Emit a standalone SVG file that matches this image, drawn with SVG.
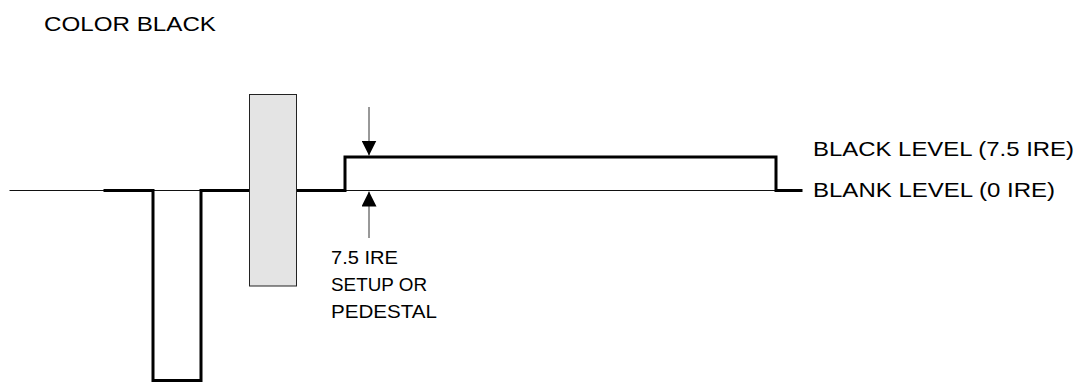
<svg xmlns="http://www.w3.org/2000/svg" width="1084" height="383" viewBox="0 0 1084 383">
  <style>
    .label { font-family: "Liberation Sans", Arial, sans-serif; fill: #000; }
    .big { font-size: 21px; }
    .small { font-size: 18px; }
    .thin { fill: none; stroke: #111; stroke-width: 1; }
    .thick { fill: none; stroke: #000; stroke-width: 3; stroke-linejoin: miter; stroke-linecap: square; }
    .dim { fill: none; stroke: #333; stroke-width: 1; }
  </style>
  <defs>
    <marker id="arrowhead" viewBox="0 0 15 15" refX="15" refY="7.5" markerWidth="15" markerHeight="15" markerUnits="userSpaceOnUse" orient="auto">
      <path d="M0,0 L15,7.5 L0,15 Z" fill="#000"/>
    </marker>
  </defs>

  <rect width="1084" height="383" fill="#fff"/>

  <text class="label big" x="44" y="31" textLength="172" lengthAdjust="spacingAndGlyphs">COLOR BLACK</text>

  <g id="connectors">
    <!-- blank level reference line -->
    <line class="thin" x1="9.5" y1="190.5" x2="776" y2="190.5"/>
    <!-- sync pulse and back porch -->
    <path class="thick" d="M105,190.5 H153 V380.5 H201 V190.5 H249"/>
    <!-- active line raised to black level -->
    <path class="thick" d="M297,190.5 H345 V157 H776 V190.5 H801"/>
    <!-- setup dimension arrows -->
    <line class="dim" x1="369" y1="107" x2="369" y2="155.5" marker-end="url(#arrowhead)"/>
    <line class="dim" x1="369" y1="238" x2="369" y2="191.5" marker-end="url(#arrowhead)"/>
  </g>

  <g id="burst">
    <rect x="249.5" y="94.5" width="47" height="191.5" fill="#e4e4e4" stroke="#222" stroke-width="1"/>
  </g>

  <g id="black-level">
    <text class="label big" x="813" y="155.5" textLength="261" lengthAdjust="spacingAndGlyphs">BLACK LEVEL (7.5 IRE)</text>
  </g>
  <g id="blank-level">
    <text class="label big" x="813" y="197" textLength="242" lengthAdjust="spacingAndGlyphs">BLANK LEVEL (0 IRE)</text>
  </g>
  <g id="setup">
    <text class="label small" x="331" y="264" textLength="67" lengthAdjust="spacingAndGlyphs">7.5 IRE</text>
    <text class="label small" x="331" y="291" textLength="96" lengthAdjust="spacingAndGlyphs">SETUP OR</text>
    <text class="label small" x="331" y="318" textLength="106" lengthAdjust="spacingAndGlyphs">PEDESTAL</text>
  </g>
</svg>
